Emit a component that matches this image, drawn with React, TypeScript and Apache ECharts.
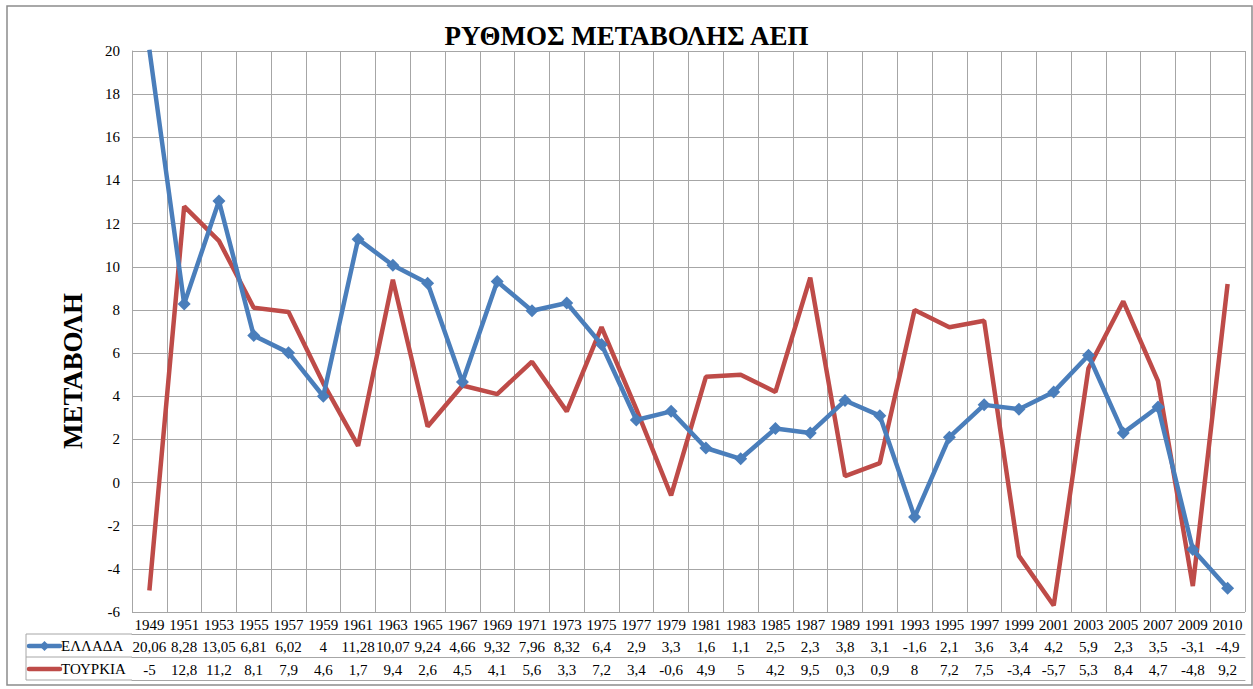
import React, { useEffect, useRef } from "react";
import * as echarts from "echarts";

const years = ["1949","1951","1953","1955","1957","1959","1961","1963","1965","1967","1969","1971","1973","1975","1977","1979","1981","1983","1985","1987","1989","1991","1993","1995","1997","1999","2001","2003","2005","2007","2009","2010"];
const greece = [20.06, 8.28, 13.05, 6.81, 6.02, 4, 11.28, 10.07, 9.24, 4.66, 9.32, 7.96, 8.32, 6.4, 2.9, 3.3, 1.6, 1.1, 2.5, 2.3, 3.8, 3.1, -1.6, 2.1, 3.6, 3.4, 4.2, 5.9, 2.3, 3.5, -3.1, -4.9];
const turkey = [-5, 12.8, 11.2, 8.1, 7.9, 4.6, 1.7, 9.4, 2.6, 4.5, 4.1, 5.6, 3.3, 7.2, 3.4, -0.6, 4.9, 5, 4.2, 9.5, 0.3, 0.9, 8, 7.2, 7.5, -3.4, -5.7, 5.3, 8.4, 4.7, -4.8, 9.2];
const seriesNames = ["ΕΛΛΑΔΑ", "ΤΟΥΡΚΙΑ"];
const titleText = "ΡΥΘΜΟΣ ΜΕΤΑΒΟΛΗΣ ΑΕΠ";
const yAxisTitle = "ΜΕΤΑΒΟΛΗ";

const fmt = (v: number) => String(v).replace(".", ",");

export default function App() {
  const ref = useRef<HTMLDivElement>(null);
  useEffect(() => {
    const chart = echarts.init(ref.current!, null, { renderer: "svg" });
    const font = "'Liberation Serif', 'Times New Roman', serif";
    const gridColor = "#a6a6a6";
    const blue = "#4A7EBB";
    const red = "#BE4B48";
    const tableAxis = (offset: number, labels: string[] | null) => ({
      type: "category",
      data: years,
      position: "bottom",
      offset,
      boundaryGap: true,
      axisLine: { show: true, lineStyle: { color: gridColor, width: 1 } },
      axisTick: { show: false },
      splitLine: { show: false },
      axisLabel: {
        show: !!labels,
        interval: 0,
        margin: 5,
        color: "#000",
        fontFamily: font,
        fontSize: 15,
        formatter: (_v: string, i: number) => (labels ? labels[i] : ""),
      },
    });
    const legendRow = (y: number, name: string, color: string, marker: boolean) => {
      const els: any[] = [
        {
          type: "line",
          shape: { x1: 29, y1: y, x2: 60, y2: y },
          style: { stroke: color, lineWidth: 4.5, lineCap: "round" },
        },
        {
          type: "text",
          x: 61,
          y: y,
          style: {
            text: name,
            fontFamily: font,
            fontSize: 15,
            fill: "#000",
            align: "left",
            verticalAlign: "middle",
          },
        },
      ];
      if (marker) {
        els.push({
          type: "polygon",
          shape: { points: [[44.5, y - 5], [49.5, y], [44.5, y + 5], [39.5, y]] },
          style: { fill: color },
        });
      }
      return els;
    };
    chart.setOption({
      animation: false,
      backgroundColor: "#fff",
      title: {
        text: titleText,
        left: "center",
        top: 17,
        textStyle: { fontFamily: font, fontWeight: "bold", fontSize: 27, color: "#000" },
      },
      grid: { left: 132, right: 8, top: 51, bottom: 77, containLabel: false },
      xAxis: [
        {
          type: "category",
          data: years,
          boundaryGap: true,
          axisLine: { show: true, lineStyle: { color: gridColor } },
          axisTick: { show: true, interval: 0, length: 68, lineStyle: { color: gridColor } },
          splitLine: { show: true, interval: 0, lineStyle: { color: gridColor } },
          axisLabel: { interval: 0, margin: 5, color: "#000", fontFamily: font, fontSize: 15 },
        },
        tableAxis(22, greece.map(fmt)),
        tableAxis(45, turkey.map(fmt)),
        tableAxis(68, null),
      ],
      yAxis: {
        type: "value",
        min: -6,
        max: 20,
        interval: 2,
        axisLine: { show: true, lineStyle: { color: gridColor } },
        axisTick: { show: false },
        splitLine: { show: true, lineStyle: { color: gridColor } },
        axisLabel: { margin: 12, color: "#000", fontFamily: font, fontSize: 15 },
      },
      graphic: [
        {
          type: "rect",
          shape: { x: 7, y: 6, width: 1245, height: 679 },
          style: { fill: "none", stroke: "#8c8c8c", lineWidth: 1.5 },
          silent: true,
        },
        { type: "line", shape: { x1: 26, y1: 634, x2: 132, y2: 634 }, style: { stroke: gridColor, lineWidth: 1 } },
        { type: "line", shape: { x1: 26, y1: 657, x2: 132, y2: 657 }, style: { stroke: gridColor, lineWidth: 1 } },
        { type: "line", shape: { x1: 26, y1: 680, x2: 132, y2: 680 }, style: { stroke: gridColor, lineWidth: 1 } },
        { type: "line", shape: { x1: 26, y1: 634, x2: 26, y2: 680 }, style: { stroke: gridColor, lineWidth: 1 } },
        ...legendRow(646, seriesNames[0], blue, true),
        ...legendRow(669, seriesNames[1], red, false),
        {
          type: "text",
          x: 73,
          y: 371,
          rotation: Math.PI / 2,
          style: {
            text: yAxisTitle,
            fontFamily: font,
            fontWeight: "bold",
            fontSize: 27,
            fill: "#000",
            align: "center",
            verticalAlign: "middle",
          },
        },
      ],
      series: [
        {
          name: seriesNames[1],
          type: "line",
          data: turkey,
          symbol: "none",
          lineStyle: { color: red, width: 4.5 },
          itemStyle: { color: red },
          z: 2,
        },
        {
          name: seriesNames[0],
          type: "line",
          data: greece,
          symbol: "diamond",
          symbolSize: 13,
          lineStyle: { color: blue, width: 4.5 },
          itemStyle: { color: blue },
          z: 3,
        },
      ],
    });
    return () => chart.dispose();
  }, []);
  return (
    <div
      ref={ref}
      style={{ position: "fixed", left: 0, top: 0, width: 1253, height: 689 }}
    />
  );
}
